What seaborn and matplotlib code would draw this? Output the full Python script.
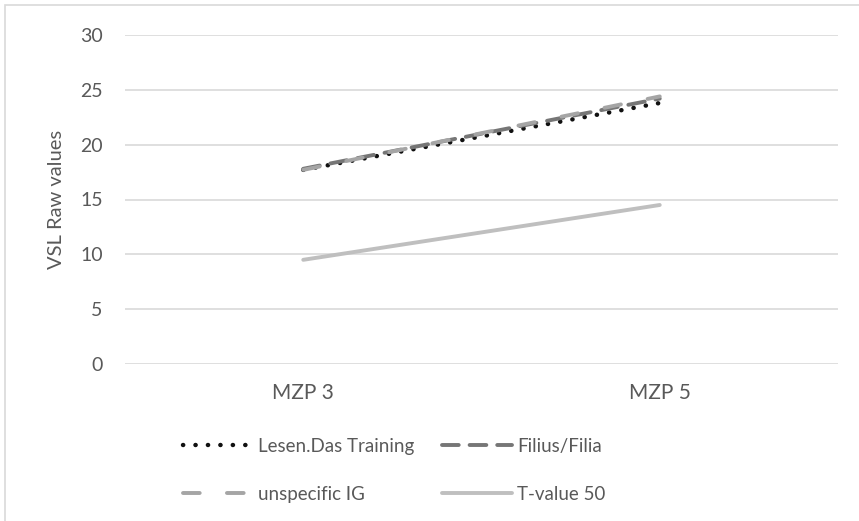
import matplotlib
matplotlib.use("Agg")
import matplotlib.pyplot as plt
from matplotlib.patches import Rectangle
import seaborn as sns
import pandas as pd

# Measurement points and group means
timepoints = ["MZP 3", "MZP 5"]
series_names = ["Lesen.Das Training", "Filius/Filia", "unspecific IG", "T-value 50"]
lesen = [17.7, 23.8]
filius = [17.8, 24.2]
unspecific = [17.7, 24.4]
t_value = [9.5, 14.5]

values = {
    "Lesen.Das Training": lesen,
    "Filius/Filia": filius,
    "unspecific IG": unspecific,
    "T-value 50": t_value,
}
rows = []
for name in series_names:
    for tp, v in zip(timepoints, values[name]):
        rows.append({"MZP": tp, "value": v, "group": name})
df = pd.DataFrame(rows)

sns.set_theme(style="white")
plt.rcParams["font.family"] = ["Lato", "DejaVu Sans"]
plt.rcParams["lines.dash_capstyle"] = "round"
plt.rcParams["lines.solid_capstyle"] = "round"

text_color = "#595959"
grid_color = "#d9d9d9"

palette = {
    "Lesen.Das Training": "#111111",
    "Filius/Filia": "#767676",
    "unspecific IG": "#a5a5a5",
    "T-value 50": "#bfbfbf",
}
dashes = {
    "Lesen.Das Training": (0.05, 2.75),
    "Filius/Filia": (4.3, 2.8),
    "unspecific IG": (4.3, 7.0),
    "T-value 50": "",
}

fig = plt.figure(figsize=(8.59, 5.21), dpi=100)
ax = fig.add_axes([125 / 859, 1 - 364 / 521, (838 - 125) / 859, (364 - 35) / 521])

sns.lineplot(
    data=df, x="MZP", y="value", hue="group", style="group",
    hue_order=series_names, style_order=series_names,
    palette=palette, dashes=dashes, linewidth=2.8, ax=ax, sort=False,
)
handles, labels = ax.get_legend_handles_labels()
ax.get_legend().remove()

# Slightly heavier dots for the dotted series
ax.lines[0].set_linewidth(3.2)
handles[0].set_linewidth(3.2)

ax.set_xlim(-0.5, 1.5)
ax.set_ylim(0, 30)
ax.set_yticks(range(0, 31, 5))
ax.yaxis.grid(True, color=grid_color, linewidth=1.2)
ax.set_axisbelow(True)
for s in ax.spines.values():
    s.set_visible(False)
ax.tick_params(axis="both", length=0, labelcolor=text_color)
ax.tick_params(axis="y", pad=16, labelsize=14)
ax.tick_params(axis="x", pad=14, labelsize=15)
ax.set_xlabel("")
ax.set_ylabel("VSL Raw values", fontsize=14.5, color=text_color, labelpad=11)

# Legend laid out row by row: Lesen | Filius, then unspecific | T-value
order = [0, 2, 1, 3]
leg = fig.legend(
    [handles[i] for i in order], [labels[i] for i in order],
    ncol=2, loc="upper left",
    bbox_to_anchor=(166 / 859, 1 - 421 / 521),
    frameon=False, fontsize=13.5, handlelength=3.7, handletextpad=0.3,
    columnspacing=1.5, labelspacing=1.65,
)
for t in leg.get_texts():
    t.set_color(text_color)

# Outer chart frame
fig.patches.append(Rectangle((5 / 859, -0.1), 1.2, 1.1 - 5 / 521,
                             transform=fig.transFigure, fill=False,
                             edgecolor=grid_color, linewidth=1.2))

fig.savefig("out.png", dpi=100)
